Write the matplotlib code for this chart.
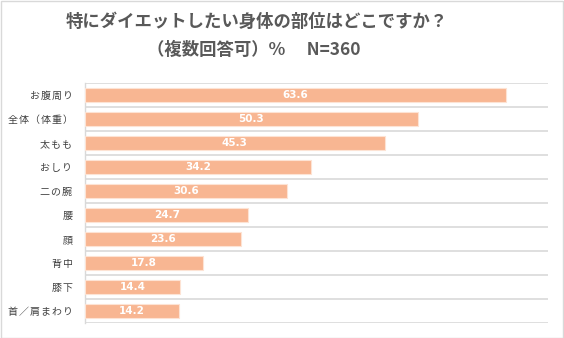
import matplotlib
matplotlib.use("Agg")
import matplotlib.pyplot as plt
from matplotlib.patches import Rectangle

plt.rcParams['font.family'] = ['Noto Sans CJK JP', 'DejaVu Sans']

categories = ["お腹周り", "全体（体重）", "太もも", "おしり", "二の腕", "腰", "顔", "背中", "膝下", "首／肩まわり"]
values = [63.6, 50.3, 45.3, 34.2, 30.6, 24.7, 23.6, 17.8, 14.4, 14.2]
title_lines = ["特にダイエットしたい身体の部位はどこですか？", "（複数回答可）%　 N=360"]

W, H = 564, 338
fig = plt.figure(figsize=(W / 100, H / 100), dpi=100)
fig.patches.append(Rectangle((0.5 / W, 0.5 / H), 1 - 1.5 / W, 1 - 1.5 / H, transform=fig.transFigure,
                             fill=False, edgecolor="#D9D9D9", lw=1.0))

left, right, top, bottom = 85, 548, 83, 323
ax = fig.add_axes([left / W, 1 - bottom / H, (right - left) / W, (bottom - top) / H])

n = len(categories)
ypos = list(range(n))
ax.barh(ypos, values, height=0.55, color="#F8B692", edgecolor="#FDE3D4", linewidth=0.8, zorder=3)
for y, v in zip(ypos, values):
    ax.text(v / 2, y, f"{v:.1f}", ha="center", va="center", color="white",
            fontsize=7.5, fontweight="bold", family=["DejaVu Sans"], zorder=4)

def spaced(s):
    return "\u200a".join(s)

ax.set_xlim(0, 70)
ax.set_ylim(n - 0.5, -0.5)
ax.set_yticks(ypos)
ax.set_yticklabels([spaced(c) for c in categories], fontsize=7.2, color="#404040")
ax.set_xticks([])
ax.tick_params(axis="y", length=0, pad=9)
for b in [i - 0.5 for i in range(n + 1)]:
    ax.axhline(b, color="#D9D9D9", lw=1.2, zorder=1)
for s in ["top", "right", "bottom"]:
    ax.spines[s].set_visible(False)
ax.spines["left"].set_color("#D9D9D9")
ax.spines["left"].set_linewidth(1.0)

fig.text(257 / W, 1 - 22 / H, title_lines[0], ha="center", va="center", fontsize=12.5,
         fontweight="bold", color="#595959")
fig.text(254 / W, 1 - 50 / H, title_lines[1], ha="center", va="center", fontsize=12.5,
         fontweight="bold", color="#595959")

fig.savefig("out.png", dpi=100)
